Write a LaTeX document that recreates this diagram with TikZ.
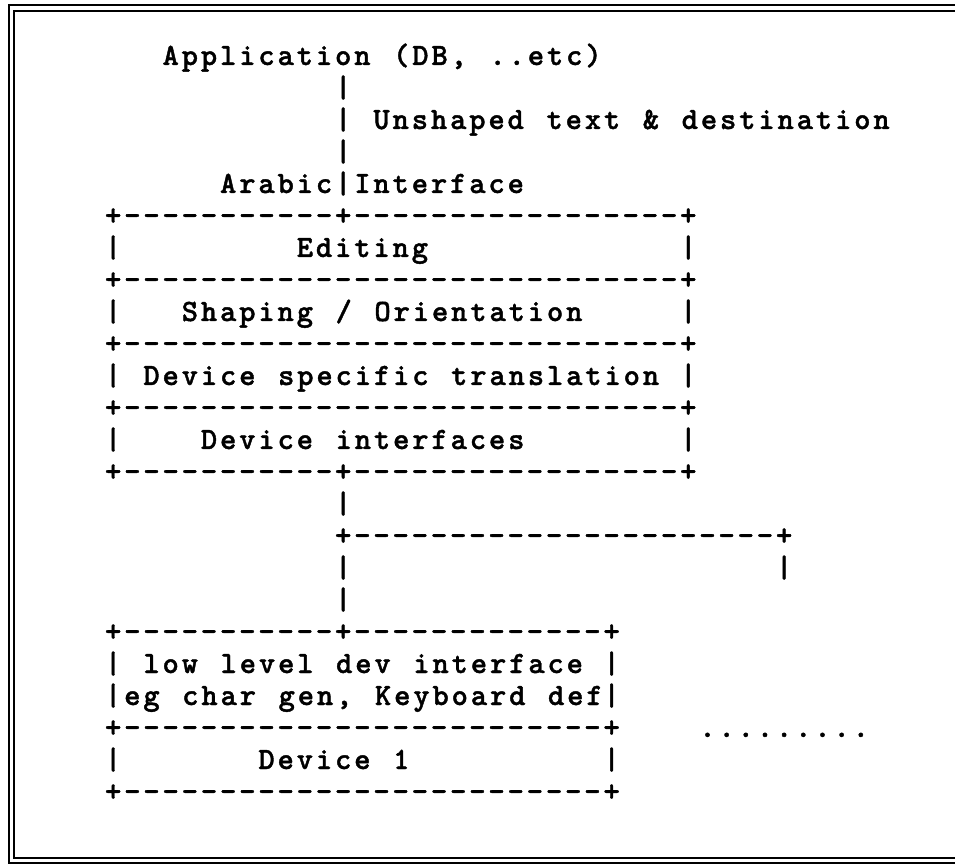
\documentclass[tikz,border=0pt]{standalone}
\usepackage{fontspec}
\setmonofont{lmmonolt10-regular.otf}[BoldFont=lmmonolt10-bold.otf, BoldFeatures={FakeBold=1.3}, LetterSpace=9.34, WordSpace=1.178]
\usetikzlibrary{positioning}

\begin{document}
\begin{tikzpicture}[x=19.17pt, y=-32pt,
  ascii/.style={font=\ttfamily\bfseries\fontsize{31pt}{32pt}\selectfont, inner sep=0pt, anchor=base west, xshift=-8.14pt, yshift=-11pt},
  frame/.style={line width=2.4pt}]
  \useasboundingbox (-113pt,214pt) rectangle (842pt,-652pt);
  % double frame, open at the right
  \draw[frame] (842pt,209pt) -- (-104pt,209pt) -- (-104pt,-649pt) -- (842pt,-649pt);
  \draw[frame, line width=2pt] (842pt,203pt) -- (-99pt,203pt) -- (-99pt,-644pt) -- (842pt,-644pt);

  % top: application and interface
  \node[ascii] (app) at (3,-5) {Application (DB, ..etc)};
  \foreach \r in {-4,-3,-2,-1}
    \node[ascii] (up\r) at (12,\r) {|};
  \node[ascii] (unshaped) at (14,-3) {Unshaped text \& destination};
  \node[ascii] (arabic) at (6,-1) {Arabic};
  \node[ascii] (iface) at (13,-1) {Interface};

  % layer stack
  \node[ascii] (top) at (0,0) {+-----------+-----------------+};
  \foreach \r in {2,4,6}
    \node[ascii] (sep\r) at (0,\r) {+-----------------------------+};
  \node[ascii] (bot) at (0,8) {+-----------+-----------------+};
  \foreach \r in {1,3,5,7} {
    \node[ascii] (l\r) at (0,\r) {|};
    \node[ascii] (r\r) at (30,\r) {|};
  }
  \node[ascii] (editing) at (10,1) {Editing};
  \node[ascii] (shaping) at (4,3) {Shaping / Orientation};
  \node[ascii] (devspec) at (2,5) {Device specific translation};
  \node[ascii] (devif) at (5,7) {Device interfaces};

  % branch to the devices
  \node[ascii] (down9) at (12,9) {|};
  \node[ascii] (branch) at (12,10) {+----------------------+};
  \node[ascii] (down11) at (12,11) {|};
  \node[ascii] (down12) at (12,12) {|};
  \node[ascii] (other) at (35,11) {|};

  % device 1
  \node[ascii] (dtop) at (0,13) {+-----------+-------------+};
  \foreach \r in {14,15,17} {
    \node[ascii] (dl\r) at (0,\r) {|};
    \node[ascii] (dr\r) at (26,\r) {|};
  }
  \node[ascii] (lowlvl) at (2,14) {low level dev interface};
  \node[ascii] (chargen) at (1,15) {eg char gen, Keyboard def};
  \node[ascii] (dsep) at (0,16) {+-------------------------+};
  \node[ascii] (dev1) at (8,17) {Device 1};
  \node[ascii] (dbot) at (0,18) {+-------------------------+};
  \node[ascii] (dots) at (31,16) {.........};
\end{tikzpicture}
\end{document}
